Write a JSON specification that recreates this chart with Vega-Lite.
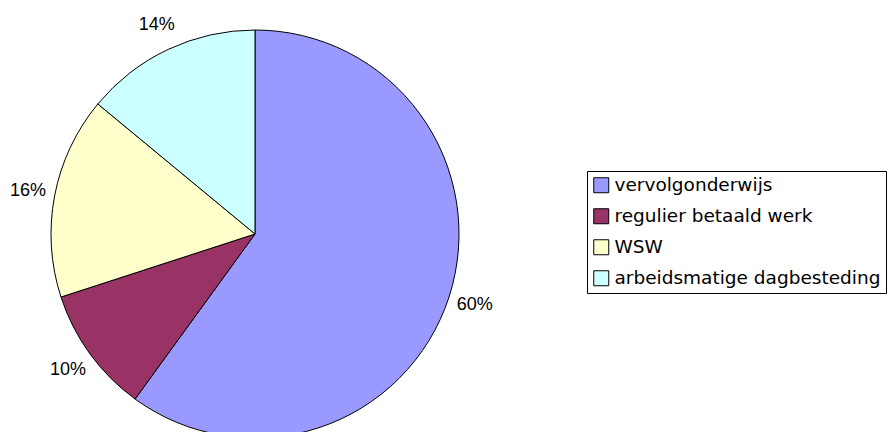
{
  "$schema": "https://vega.github.io/schema/vega-lite/v6.json",
  "width": 510,
  "height": 468,
  "padding": 0,
  "background": "white",
  "view": {"stroke": null},
  "data": {
    "values": [
      {"category": "vervolgonderwijs", "share": 0.60, "order": 1},
      {"category": "regulier betaald werk", "share": 0.10, "order": 2},
      {"category": "WSW", "share": 0.16, "order": 3},
      {"category": "arbeidsmatige dagbesteding", "share": 0.14, "order": 4}
    ]
  },
  "encoding": {
    "theta": {"field": "share", "type": "quantitative", "stack": true},
    "order": {"field": "order", "type": "quantitative"}
  },
  "layer": [
    {
      "mark": {"type": "arc", "outerRadius": 204, "stroke": "black", "strokeWidth": 1},
      "encoding": {
        "color": {
          "field": "category",
          "type": "nominal",
          "sort": null,
          "scale": {
            "domain": ["vervolgonderwijs", "regulier betaald werk", "WSW", "arbeidsmatige dagbesteding"],
            "range": ["#9999FF", "#993366", "#FFFFCC", "#CCFFFF"]
          },
          "legend": {
            "title": null,
            "orient": "none",
            "legendX": 587,
            "legendY": 171,
            "strokeColor": "black",
            "fillColor": "white",
            "padding": 5,
            "symbolType": "square",
            "symbolSize": 225,
            "symbolStrokeColor": "black",
            "symbolStrokeWidth": 1,
            "symbolOpacity": 1,
            "labelFont": "DejaVu Sans",
            "labelFontSize": 18.5,
            "labelColor": "black",
            "labelOffset": 4,
            "rowPadding": 11,
            "labelLimit": 400
          }
        }
      }
    },
    {
      "mark": {"type": "text", "radius": 231, "font": "Liberation Sans", "fontSize": 18, "color": "black", "align": "center", "baseline": "middle"},
      "encoding": {
        "text": {"field": "share", "type": "quantitative", "format": ".0%"}
      }
    }
  ]
}
